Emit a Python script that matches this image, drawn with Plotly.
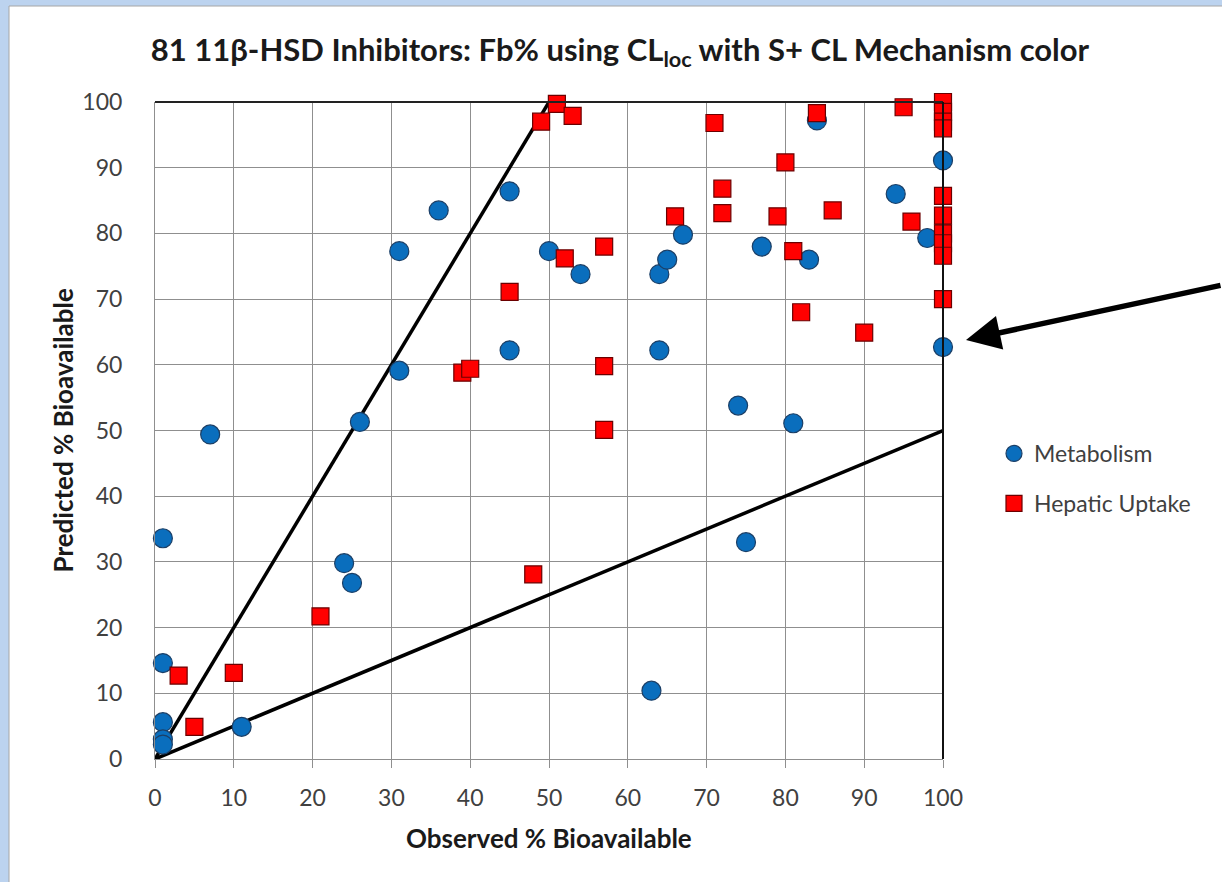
import plotly.graph_objects as go

# Metabolism-cleared compounds (observed vs predicted % bioavailable)
met_obs = [7, 1, 1, 1, 1, 1, 11, 24, 25, 26, 31, 31, 36, 45, 45, 50, 54, 64, 65, 67,
           64, 63, 74, 75, 77, 81, 83, 84, 94, 98, 100, 100]
met_pred = [49.4, 33.6, 14.6, 5.6, 3.0, 2.2, 4.9, 29.8, 26.8, 51.3, 77.3, 59.1, 83.5, 86.4,
            62.2, 77.3, 73.8, 73.8, 76.0, 79.8, 62.2, 10.4, 53.8, 33.0, 78.0, 51.1, 76.0,
            97.2, 86.0, 79.3, 91.1, 62.7]

# Hepatic-uptake compounds
hep_obs = [51, 49, 53, 71, 84, 95, 100, 100, 100, 100, 80, 72, 72, 66, 79, 86, 96, 100,
           100, 100, 100, 100, 57, 52, 81, 45, 100, 82, 90, 39, 40, 57, 57, 48, 21, 3, 10, 5]
hep_pred = [99.7, 97.0, 97.9, 96.8, 98.3, 99.2, 100.0, 98.5, 97.0, 96.0, 90.8, 86.8, 83.1,
            82.6, 82.6, 83.5, 81.8, 85.7, 82.7, 80.0, 78.5, 76.6, 78.0, 76.2, 77.3, 71.1,
            70.0, 68.0, 64.9, 58.8, 59.4, 59.8, 50.1, 28.1, 21.7, 12.7, 13.1, 4.9]

# Two-fold envelope lines
upper_x, upper_y = [0, 50], [0, 100]
lower_x, lower_y = [0, 100], [0, 50]

ticks = list(range(0, 101, 10))

FONT = "Lato"
TXT = "#404040"

fig = go.Figure()

fig.add_trace(go.Scatter(x=upper_x, y=upper_y, mode="lines", showlegend=False,
                         line=dict(color="black", width=3.5), hoverinfo="skip"))
fig.add_trace(go.Scatter(x=lower_x, y=lower_y, mode="lines", showlegend=False,
                         line=dict(color="black", width=3.5), hoverinfo="skip"))

fig.add_trace(go.Scatter(
    x=met_obs, y=met_pred, mode="markers", name="Metabolism", legendgroup="a",
    cliponaxis=False,
    marker=dict(symbol="circle", size=19, color="#0a6ebd",
                line=dict(color="#1c3f66", width=1.2)),
))
fig.add_trace(go.Scatter(
    x=hep_obs, y=hep_pred, mode="markers", name="Hepatic Uptake", legendgroup="b",
    cliponaxis=False,
    marker=dict(symbol="square", size=17, color="#ff0000",
                line=dict(color="#6b0000", width=1.2)),
))

W, H = 1222, 882
L, R, T, B = 155, 279, 102, 123
pw, ph = W - L - R, H - T - B


def px_x(v):
    return (v - L) / pw


def px_y(v):
    return (H - B - v) / ph


shapes = [
    # white chart panel over the light-blue page
    dict(type="rect", xref="paper", yref="paper", layer="below",
         x0=px_x(9), x1=px_x(W + 5), y0=px_y(H + 5), y1=px_y(6),
         fillcolor="white", line=dict(color="#a6a6a6", width=1)),
    # dark top and right frame of the plot area
    dict(type="line", xref="paper", yref="paper", x0=0, x1=1, y0=1, y1=1,
         line=dict(color="#222222", width=2)),
    dict(type="line", xref="paper", yref="paper", x0=1, x1=1, y0=0, y1=1,
         line=dict(color="#111111", width=2)),
]

annotations = [
    dict(text="Observed % Bioavailable", xref="paper", yref="paper",
         x=0.5, y=px_y(838), xanchor="center", yanchor="middle", showarrow=False,
         font=dict(family=FONT, size=26, color="#1a1a1a", weight="bold")),
    dict(text="Predicted % Bioavailable", xref="paper", yref="paper",
         x=px_x(62), y=0.5, xanchor="center", yanchor="middle", showarrow=False,
         textangle=-90,
         font=dict(family=FONT, size=26, color="#1a1a1a", weight="bold")),
    # arrow pointing at the x = 100 column
    dict(x=px_x(966), y=px_y(340), xref="paper", yref="paper",
         ax=1226 - 966, ay=285 - 340, axref="pixel", ayref="pixel",
         text="", showarrow=True, arrowhead=2, arrowsize=1.25, arrowwidth=5.5,
         arrowcolor="black"),
]

fig.update_layout(
    width=W, height=H,
    margin=dict(l=L, r=R, t=T, b=B, pad=0),
    paper_bgcolor="#bcd3ef",
    plot_bgcolor="white",
    title=dict(
        text="81 11β-HSD Inhibitors: Fb% using CL<sub>loc</sub> with S+ CL Mechanism color",
        x=620 / W, y=1 - 50 / H, xanchor="center", yanchor="middle",
        font=dict(family=FONT, size=31, color="#1a1a1a", weight="bold"),
    ),
    xaxis=dict(range=[0, 100], tickvals=ticks, showgrid=True, gridcolor="#8f8f8f",
               gridwidth=1, zeroline=False, showline=True, linecolor="#8f8f8f",
               linewidth=1, ticks="outside", ticklen=8, tickcolor="#8f8f8f",
               ticklabelstandoff=10,
               tickfont=dict(family=FONT, size=23, color=TXT)),
    yaxis=dict(range=[0, 100], tickvals=ticks, showgrid=True, gridcolor="#8f8f8f",
               gridwidth=1, zeroline=False, showline=True, linecolor="#8f8f8f",
               linewidth=1, ticks="", ticklabelstandoff=27,
               tickfont=dict(family=FONT, size=23, color=TXT)),
    legend=dict(x=px_x(994), y=px_y(432), xanchor="left", yanchor="top",
                bgcolor="rgba(0,0,0,0)", traceorder="grouped", tracegroupgap=17,
                itemwidth=30,
                font=dict(family=FONT, size=23, color=TXT)),
    shapes=shapes,
    annotations=annotations,
)

fig.write_html("out.html")
